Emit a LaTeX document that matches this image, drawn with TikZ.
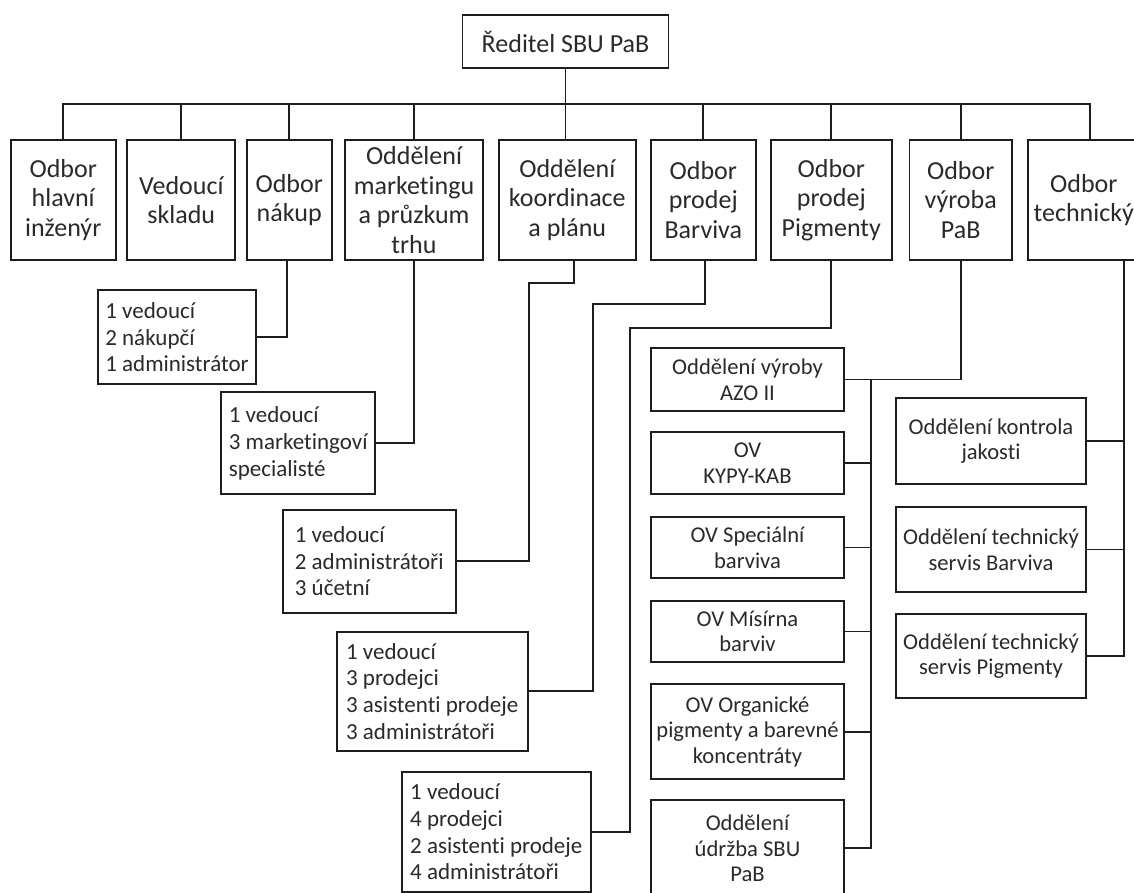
\documentclass[tikz,border=0pt]{standalone}
\usepackage{fontspec}
\setmainfont{Carlito}[Ligatures=NoCommon,Contextuals=NoAlternate]
\definecolor{linec}{HTML}{1E1E1E}
\definecolor{txt}{HTML}{2A2A2A}
\begin{document}
\begin{tikzpicture}[x=1pt,y=-1pt,line width=1.9pt,
  box/.style={draw=linec,line width=1.9pt,inner sep=1pt,text=txt},
  wh/.style 2 args={minimum width=#1,minimum height=#2},
  dept/.style={box,align=center,font=\fontsize{26}{29.5}\selectfont},
  staff/.style={box,align=left,font=\fontsize{23}{26.7}\selectfont},
  unit/.style={box,align=center,font=\fontsize{22.6}{25.5}\selectfont},
  link/.style={draw=linec,line width=1.9pt}]
\useasboundingbox (0,0) rectangle (1134,893);
\clip (0,0) rectangle (1134,893);
\fill[white] (0,0) rectangle (1134,893);

% director
\node[box,font=\fontsize{26}{30}\selectfont,wh={206}{53.3}] (top) at (565.5,41.7) {Ředitel SBU PaB};

% departments
\node[dept,wh={105}{120}]   (d1) at (63.2,200)   {Odbor\\hlavní\\inženýr};
\node[dept,wh={108}{120}]   (d2) at (181.3,200)  {Vedoucí\\skladu};
\node[dept,wh={85}{120}]    (d3) at (289.2,200)  {Odbor\\nákup};
\node[dept,wh={138}{120}]   (d4) at (414,200)    {Oddělení\\marketingu\\a průzkum\\trhu};
\node[dept,wh={136.7}{120}] (d5) at (567.3,200)  {Oddělení\\koordinace\\a plánu};
\node[dept,wh={104.7}{120}] (d6) at (703.3,200)  {Odbor\\prodej\\Barviva};
\node[dept,wh={120.7}{120}] (d7) at (831.3,200)  {Odbor\\prodej\\Pigmenty};
\node[dept,wh={102.5}{120}] (d8) at (960.7,200)  {Odbor\\výroba\\PaB};
\node[dept,wh={112.3}{120}] (d9) at (1083.8,200) {Odbor\\technický};

% staffing boxes
\node[staff,wh={157.4}{94.3}] (sA) at (177,337.2)   {1 vedoucí\\2 nákupčí\\1 administrátor};
\node[staff,wh={154.3}{101.7}] (sB) at (298.2,443.2) {1 vedoucí\\3 marketingoví\\specialisté};
\node[staff,wh={173}{102.7}]  (sC) at (369.2,561.3) {1 vedoucí\\2 administrátoři\\3 účetní};
\node[staff,wh={191}{119}]    (sD) at (432.2,691.2) {1 vedoucí\\3 prodejci\\3 asistenti prodeje\\3 administrátoři};
\node[staff,wh={189.3}{119.4}] (sE) at (496.3,832)  {1 vedoucí\\4 prodejci\\2 asistenti prodeje\\4 administrátoři};

% production units
\node[unit,wh={193}{62.4}] (pF) at (747.5,379.5) {Oddělení výroby\\AZO II};
\node[unit,wh={193}{62}]   (pG) at (747.5,463.3) {OV\\KYPY-KAB};
\node[unit,wh={193}{61.6}] (pH) at (747.5,547.5) {OV Speciální\\barviva};
\node[unit,wh={193}{61.6}] (pI) at (747.5,631.5) {OV Mísírna\\barviv};
\node[unit,wh={193}{94.7}] (pM) at (747.5,731.7) {OV Organické\\pigmenty a barevné\\koncentráty};
\node[unit,wh={193}{96.6}] (pN) at (747.5,848.3) {Oddělení\\údržba SBU\\PaB};

% technical units
\node[unit,wh={190.7}{86}]   (tJ) at (991,441.3) {Oddělení kontrola\\jakosti};
\node[unit,wh={190.7}{85.6}] (tK) at (991,549.5) {Oddělení technický\\servis Barviva};
\node[unit,wh={190.7}{84}]   (tL) at (991,656.3) {Oddělení technický\\servis Pigmenty};

% top-level bus
\coordinate (bus) at (565.7,104);
\draw[link] (top.south) -- (top.south |- d5.north);
\draw[link] (d1.north) -- (d1.north |- bus) -- ([xshift=6.2]d9.north |- bus) -- ([xshift=6.2]d9.north);
\foreach \d in {d2,d3,d4,d6,d7,d8}{
  \draw[link] (\d.north) -- (\d.north |- bus);
}

% staffing links
\draw[link] ([xshift=-2.2]d3.south) |- (sA.east);
\draw[link] (d4.south) |- (sB.east);
\draw[link] ([xshift=6.7]d5.south) -- ++(0,22.3) -| ([xshift=72]sC.east) -- (sC.east);
\draw[link] ([xshift=2]d6.south) -- ++(0,43.3) -| ([xshift=64]sD.east) -- (sD.east);
\draw[link] (d7.south) -- ++(0,66.7) -| ([xshift=38.3]sE.east) -- (sE.east);

% production links
\draw[link] (d8.south) |- (pF.east);
\draw[link] ([xshift=26]pF.east) |- (pN.east);
\foreach \p in {pG,pH,pI,pM}{
  \draw[link] (\p.east) -- ++(26,0);
}

% technical links
\draw[link] ([xshift=40.2]d9.south) |- (tL.east);
\draw[link] (tJ.east) -- ++(37.7,0);
\draw[link] (tK.east) -- ++(37.7,0);
\end{tikzpicture}
\end{document}
